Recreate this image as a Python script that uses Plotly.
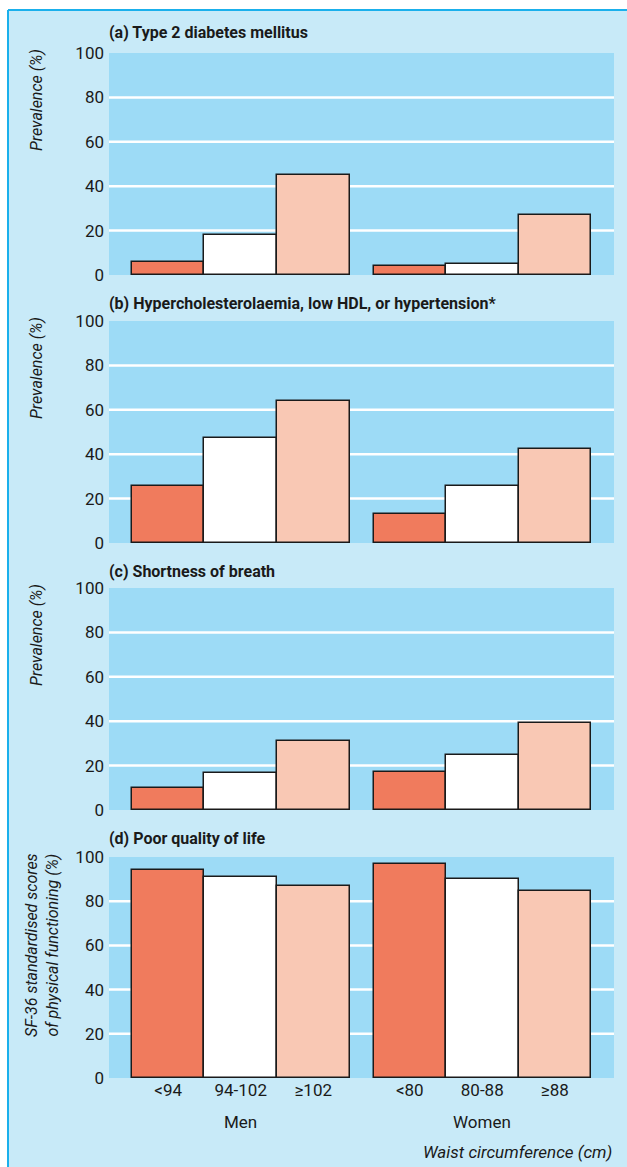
import plotly.graph_objects as go

# ---- data ----
categories = ["<94", "94-102", "≥102", "<80", "80-88", "≥88"]
groups = ["Men", "Women"]
panel_titles = [
    "(a) Type 2 diabetes mellitus",
    "(b) Hypercholesterolaemia, low HDL, or hypertension*",
    "(c) Shortness of breath",
    "(d) Poor quality of life",
]
y_titles = [
    "Prevalence (%)",
    "Prevalence (%)",
    "Prevalence (%)",
    "SF-36 standardised scores<br>of physical functioning (%)",
]
diabetes = [6, 18, 45, 4, 5, 27]
cardio_risk = [25.7, 47.3, 64, 13, 25.7, 42.3]
breath = [10, 16.8, 31, 17, 24.8, 39.2]
quality = [94.3, 91, 87.1, 96.7, 90.1, 84.8]
panel_values = [diabetes, cardio_risk, breath, quality]
y_ticks = [0, 20, 40, 60, 80, 100]
grid_vals = [20, 40, 60, 80]
x_title = "Waist circumference (cm)"

# ---- styling ----
W, H = 627, 1167
FONT = "Liberation Sans Narrow, Arial Narrow, Roboto, sans-serif"
OUTER_BG = "#c8eaf8"
PLOT_BG = "#9ddbf6"
BORDER = "#1ab0ec"
TXT = "#1a1a1a"
bar_colors = ["#f07b5d", "#ffffff", "#f9c8b4"]

panels_px = [(53, 275), (321, 543), (588, 810), (857, 1078)]
title_px = [32, 303, 571, 838]
x_left_px, x_right_px = 109, 614

def fy(px):
    return 1 - px / H

def fx(px):
    return px / W

gap = 0.331
x_pos = [i + (gap if i >= 3 else 0) for i in range(len(categories))]
x_range = [-0.817, 5.0 + gap + 0.817]

fig = go.Figure()

# white strips outside the framed box + border lines
fig.add_shape(type="rect", xref="paper", yref="paper", x0=-0.01, x1=1.01,
              y0=fy(10), y1=1.01, fillcolor="white", line_width=0, layer="below")
fig.add_shape(type="rect", xref="paper", yref="paper", x0=-0.01, x1=fx(8),
              y0=-0.01, y1=1.01, fillcolor="white", line_width=0, layer="below")
fig.add_shape(type="line", xref="paper", yref="paper", x0=fx(8), x1=1.01,
              y0=fy(10), y1=fy(10), line=dict(color=BORDER, width=2), layer="below")
fig.add_shape(type="line", xref="paper", yref="paper", x0=fx(8), x1=fx(8),
              y0=-0.01, y1=fy(10), line=dict(color=BORDER, width=2), layer="below")

for p, vals in enumerate(panel_values):
    xa = "x" if p == 0 else f"x{p+1}"
    ya = "y" if p == 0 else f"y{p+1}"
    fig.add_trace(go.Bar(
        x=x_pos, y=vals, width=1.0, xaxis=xa, yaxis=ya,
        marker=dict(color=bar_colors * 2, line=dict(color=TXT, width=1.5)),
        showlegend=False, hoverinfo="skip",
    ))
    top, bot = panels_px[p]
    xkey = "xaxis" if p == 0 else f"xaxis{p+1}"
    ykey = "yaxis" if p == 0 else f"yaxis{p+1}"
    fig.layout[xkey] = dict(
        domain=[fx(x_left_px), fx(x_right_px)], range=x_range, anchor=ya,
        showgrid=False, zeroline=False, showline=False, ticks="", automargin=False,
        tickvals=x_pos if p == 3 else [], ticktext=categories if p == 3 else [],
        showticklabels=(p == 3), tickfont=dict(family=FONT, size=17, color=TXT),
        fixedrange=True,
    )
    fig.layout[ykey] = dict(
        domain=[fy(bot), fy(top)], range=[0, 100], anchor=xa, automargin=False,
        tickvals=y_ticks, showgrid=False, zeroline=False, showline=False, ticks="",
        tickfont=dict(family=FONT, size=17, color=TXT), ticklabelstandoff=4,
        fixedrange=True,
    )
    for g in grid_vals:
        fig.add_shape(type="line", xref=f"{xa} domain", yref=ya,
                      x0=0, x1=1, y0=g, y1=g, line=dict(color="white", width=2.5),
                      layer="below")
    fig.add_annotation(text=f"<b>{panel_titles[p]}</b>", xref="paper", yref="paper",
                       x=fx(x_left_px - 2), y=fy(title_px[p]), xanchor="left", yanchor="middle",
                       showarrow=False, font=dict(family=FONT, size=16, color=TXT))
    fig.add_annotation(text=f"<i>{y_titles[p]}</i>", xref="paper", yref="paper",
                       x=fx(36 if p < 3 else 42), y=fy(top - 6), textangle=-90,
                       xanchor="center", yanchor="top", showarrow=False,
                       font=dict(family=FONT, size=16, color=TXT))

for gi, g in enumerate(groups):
    cx = sum(x_pos[gi * 3: gi * 3 + 3]) / 3
    fig.add_annotation(text=g, xref="x4", yref="paper", x=cx, y=fy(1122),
                       xanchor="center", yanchor="middle", showarrow=False,
                       font=dict(family=FONT, size=17, color=TXT))

fig.add_annotation(text=f"<i>{x_title}</i>", xref="paper", yref="paper",
                   x=fx(614), y=fy(1152), xanchor="right", yanchor="middle",
                   showarrow=False, font=dict(family=FONT, size=17, color=TXT))

fig.update_layout(
    width=W, height=H, margin=dict(l=0, r=0, t=0, b=0, autoexpand=False),
    paper_bgcolor=OUTER_BG, plot_bgcolor=PLOT_BG,
    bargap=0, showlegend=False,
)

fig.write_html("out.html", config={"displayModeBar": False},
               post_script="document.body.style.margin='0';document.body.style.overflow='hidden';")
